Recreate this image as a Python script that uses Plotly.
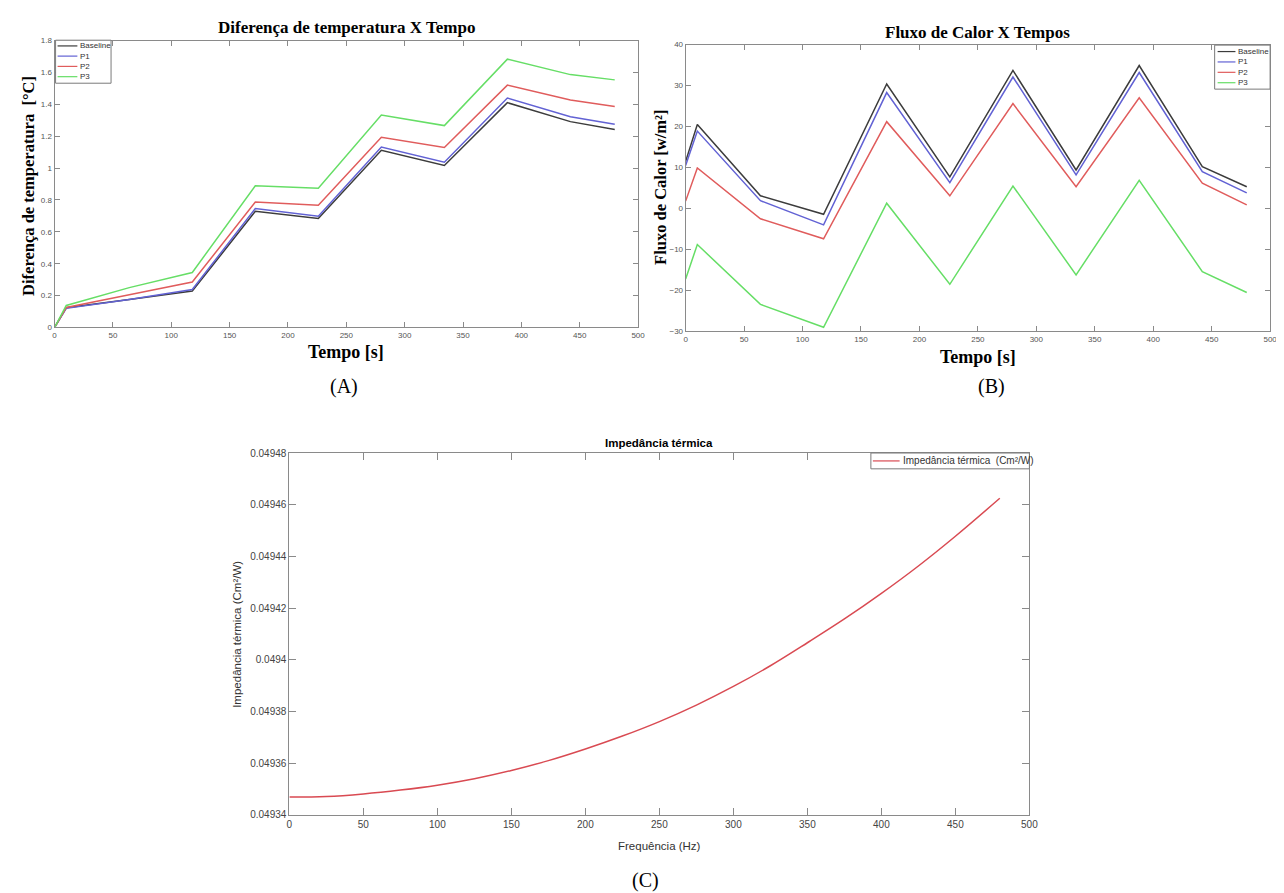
import plotly.graph_objects as go

W, H = 1284, 893

# ---------------- data ----------------
tempo = [0, 10, 64, 118, 172, 226, 280, 334, 388, 442, 480]
series_names = ["Baseline", "P1", "P2", "P3"]
series_colors = ["#3c3c3c", "#6262d4", "#e05c5c", "#66de66"]

dT_baseline = [0, 0.124, 0.175, 0.228, 0.729, 0.684, 1.112, 1.017, 1.411, 1.292, 1.242]
dT_p1 = [0, 0.120, 0.175, 0.238, 0.746, 0.698, 1.132, 1.037, 1.440, 1.323, 1.275]
dT_p2 = [0, 0.125, 0.205, 0.285, 0.787, 0.767, 1.194, 1.130, 1.521, 1.428, 1.387]
dT_p3 = [0, 0.138, 0.250, 0.345, 0.889, 0.874, 1.333, 1.267, 1.684, 1.587, 1.554]

q_baseline = [11.5, 20.5, 3.1, -1.4, 30.4, 7.7, 33.7, 9.4, 34.9, 10.2, 5.3]
q_p1 = [10.5, 18.9, 1.9, -4.0, 28.3, 6.3, 32.1, 8.2, 33.2, 9.0, 3.8]
q_p2 = [1.8, 9.9, -2.5, -7.4, 21.2, 3.1, 25.6, 5.3, 27.0, 6.2, 0.9]
q_p3 = [-17.2, -8.8, -23.4, -29.0, 1.3, -18.5, 5.5, -16.2, 6.9, -15.4, -20.5]

freq = [0, 25, 50, 75, 100, 125, 150, 175, 200, 225, 250, 275, 300, 325,
        350, 375, 400, 425, 450, 480]
impedancia = [0.0493469, 0.0493471, 0.0493481, 0.0493496, 0.0493515, 0.0493540,
              0.0493572, 0.0493610, 0.0493655, 0.0493705, 0.0493761, 0.0493825,
              0.0493897, 0.0493977, 0.0494066, 0.0494158, 0.0494257, 0.0494363,
              0.0494478, 0.0494625]

c_ticks = [0.04934, 0.04936, 0.04938, 0.0494, 0.04942, 0.04944, 0.04946, 0.04948]
c_ticktext = ["0.04934", "0.04936", "0.04938", "0.0494", "0.04942", "0.04944",
              "0.04946", "0.04948"]
a_ticks = [0, 0.2, 0.4, 0.6, 0.8, 1.0, 1.2, 1.4, 1.6, 1.8]
a_ticktext = ["0", "0.2", "0.4", "0.6", "0.8", "1", "1.2", "1.4", "1.6", "1.8"]

dT_series = [dT_baseline, dT_p1, dT_p2, dT_p3]
q_series = [q_baseline, q_p1, q_p2, q_p3]

# ---------------- helpers ----------------
def px(x):
    return x / W

def py(y):
    return 1 - y / H

fig = go.Figure()

for name, color, ys in zip(series_names, series_colors, dT_series):
    fig.add_trace(go.Scatter(x=tempo, y=ys, mode="lines", name=name,
                             line=dict(color=color, width=1.5),
                             xaxis="x", yaxis="y", showlegend=False))
for name, color, ys in zip(series_names, series_colors, q_series):
    fig.add_trace(go.Scatter(x=tempo, y=ys, mode="lines", name=name,
                             line=dict(color=color, width=1.5),
                             xaxis="x2", yaxis="y2", showlegend=False))
fig.add_trace(go.Scatter(x=freq, y=impedancia, mode="lines",
                         name="Impedância térmica  (Cm²/W)",
                         line=dict(color="#d94a52", width=1.5, shape="spline", smoothing=1.0),
                         xaxis="x3", yaxis="y3", showlegend=False))

AX_COLOR = "#8a8a8a"
TICK_FONT_SMALL = dict(family="Arial, Liberation Sans", size=8, color="#555555")
TICK_FONT_C = dict(family="Arial, Liberation Sans", size=10, color="#444444")

def axis(domain, rng, anchor, dtick=None, font=TICK_FONT_SMALL, ticklen=5, **kw):
    d = dict(domain=domain, range=rng, anchor=anchor, showgrid=False, zeroline=False,
             showline=True, linecolor=AX_COLOR, linewidth=1, mirror="ticks",
             ticks="inside", ticklen=ticklen, tickcolor=AX_COLOR, tickwidth=1,
             tickfont=font)
    if dtick is not None:
        d["dtick"] = dtick
        d["tick0"] = rng[0]
    d.update(kw)
    return d

A_L, A_R, A_T, A_B = 44, 633, 28, 318
B_L, B_R, B_T, B_B = 681, 1271, 32, 322
C_L, C_R, C_T, C_B = 281, 1028, 445, 811

fig.update_layout(
    width=W, height=H,
    margin=dict(l=0, r=0, t=0, b=0),
    paper_bgcolor="white", plot_bgcolor="white",
    xaxis=axis([px(A_L), px(A_R)], [0, 500], "y", dtick=50),
    yaxis=axis([py(A_B), py(A_T)], [0, 1.8], "x", tickvals=a_ticks, ticktext=a_ticktext),
    xaxis2=axis([px(B_L), px(B_R)], [0, 500], "y2", dtick=50),
    yaxis2=axis([py(B_B), py(B_T)], [-30, 40], "x2", dtick=10),
    xaxis3=axis([px(C_L), px(C_R)], [0, 500], "y3", dtick=50, font=TICK_FONT_C, ticklen=7),
    yaxis3=axis([py(C_B), py(C_T)], [0.04934, 0.04948], "x3", font=TICK_FONT_C, ticklen=7,
                tickvals=c_ticks, ticktext=c_ticktext),
)

ann = []
shapes = []

SERIF = "Liberation Serif, Times New Roman, serif"
SANS = "Arial, Liberation Sans, sans-serif"

def text(x, y, s, size, family=SERIF, bold=False, color="black", angle=0,
         xanchor="center", yanchor="middle"):
    t = f"<b>{s}</b>" if bold else s
    ann.append(dict(x=px(x), y=py(y), xref="paper", yref="paper", text=t,
                    showarrow=False, textangle=angle, xanchor=xanchor, yanchor=yanchor,
                    font=dict(family=family, size=size, color=color)))

# panel A texts
text((A_L + A_R) / 2, 15, "Diferença de temperatura X Tempo", 17, bold=True)
text(17, 175, "Diferença de temperatura  [°C]", 16.5, bold=True, angle=-90)
text((A_L + A_R) / 2, 343, "Tempo [s]", 18, bold=True)
text(336, 378, "(A)", 20)

# panel B texts
text((B_L + B_R) / 2, 20, "Fluxo de Calor X Tempos", 17, bold=True)
text(655, 176, "Fluxo de Calor [w/m²]", 16.5, bold=True, angle=-90)
text(976, 348, "Tempo [s]", 18, bold=True)
text(990, 378, "(B)", 20)

# panel C texts
text((C_L + C_R) / 2, 435, "Impedância térmica", 11.5, family=SANS, bold=True)
text(228, 628, "Impedância térmica (Cm²/W)", 11.5, family=SANS, color="#333333", angle=-90)
text((C_L + C_R) / 2, 842, "Frequência (Hz)", 11.5, family=SANS, color="#333333")
text(640, 877, "(C)", 20)

# manual legends
def legend(box, entries, line_x, text_x, font_size):
    x0, x1, y0, y1 = box
    shapes.append(dict(type="rect", xref="paper", yref="paper",
                       x0=px(x0), x1=px(x1), y0=py(y1), y1=py(y0),
                       line=dict(color="#7a7a7a", width=1), fillcolor="white", layer="above"))
    for (name, color, yy) in entries:
        shapes.append(dict(type="line", xref="paper", yref="paper",
                           x0=px(line_x[0]), x1=px(line_x[1]), y0=py(yy), y1=py(yy),
                           line=dict(color=color, width=1.2), layer="above"))
        ann.append(dict(x=px(text_x), y=py(yy), xref="paper", yref="paper", text=name,
                        showarrow=False, xanchor="left", yanchor="middle",
                        font=dict(family=SANS, size=font_size, color="#333333")))

a_rows = [33.3, 43.6, 54.0, 64.4]
legend((45, 101, 27.5, 71), list(zip(series_names, series_colors, a_rows)),
       (47, 67), 67.5, 8)
b_rows = [39.0, 49.5, 60.0, 70.5]
legend((1215, 1271, 32.5, 77), list(zip(series_names, series_colors, b_rows)),
       (1218, 1236), 1236.5, 8)
legend((868, 1028, 445, 461), [("Impedância térmica  (Cm²/W)", "#d94a52", 453)],
       (870, 897), 898, 10)

fig.update_layout(annotations=ann, shapes=shapes)

fig.write_html("out.html")
